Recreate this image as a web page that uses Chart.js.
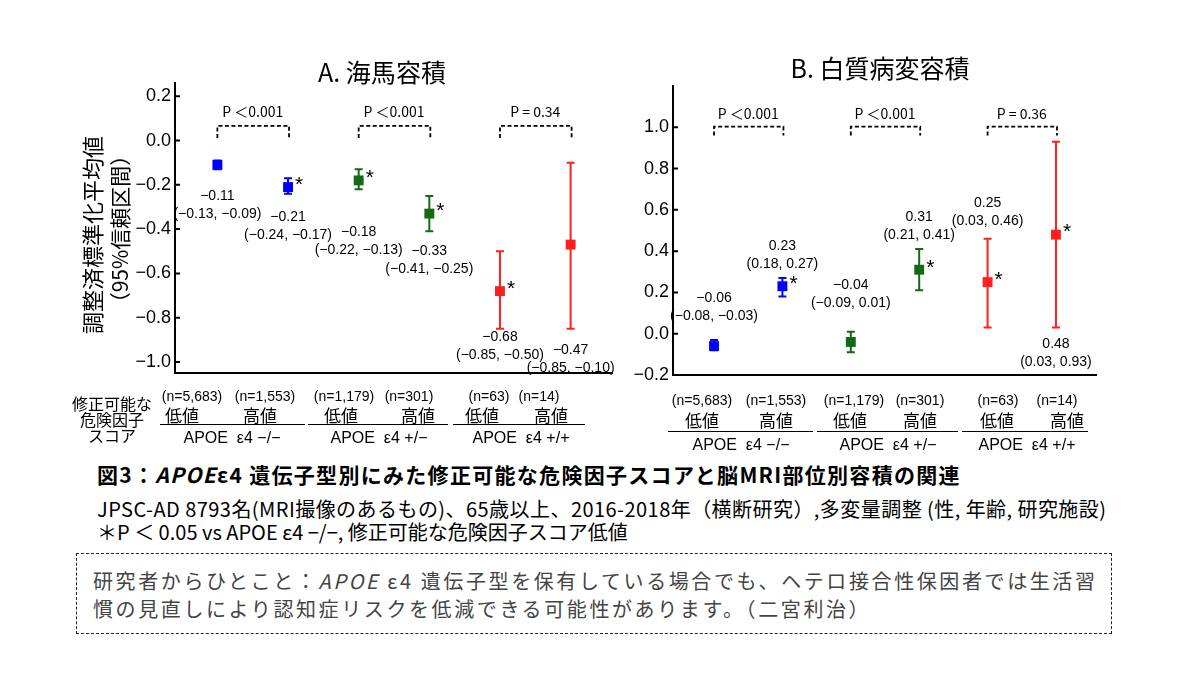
<!DOCTYPE html>
<html>
<head>
<meta charset="utf-8">
<script src="https://cdn.jsdelivr.net/npm/chart.js@4.4.0/dist/chart.umd.min.js"></script>
<style>
  body { margin: 0; background: #fff; width: 1200px; height: 675px; position: relative; overflow: hidden;
         font-family: "Noto Sans CJK JP", "Noto Sans", sans-serif; color: #000; }
  .abs { position: absolute; white-space: pre; line-height: 1; transform: translate(-50%, -50%); }
  .left { transform: translate(0, -50%); }
  #wrapA { position: absolute; left: 0; top: 0; width: 620px; height: 400px; }
  #wrapB { position: absolute; left: 620px; top: 0; width: 560px; height: 400px; }
  .uline { position: absolute; height: 0; border-top: 1.5px solid #000; }
  .num { font-family: "Liberation Sans", Arial, sans-serif; font-size: 14px; }
  .grp { font-size: 17px; }
  .side { font-size: 16px; }
  .apoe { font-family: "Liberation Sans", Arial, sans-serif; font-size: 16px; }
  #box { position: absolute; left: 76px; top: 553px; width: 1034px; height: 79px; border: 1.5px dashed #222; }
  #box div { position: absolute; left: 16px; font-size: 20px; letter-spacing: 2.6px; color: #444; white-space: nowrap; }
</style>
</head>
<body>
<div id="wrapA"><canvas id="chartA"></canvas></div>
<div id="wrapB"><canvas id="chartB"></canvas></div>
<div id="tables"></div>

<div class="abs left" style="left:97px;top:474px;font-size:21px;font-weight:bold;letter-spacing:1.3px;">図3：<i>APOE</i>ε4 遺伝子型別にみた修正可能な危険因子スコアと脳MRI部位別容積の関連</div>
<div class="abs left" style="left:97px;top:509px;font-size:20px;letter-spacing:0.45px;">JPSC-AD 8793名(MRI撮像のあるもの)、65歳以上、2016-2018年（横断研究）,多変量調整 (性, 年齢, 研究施設)</div>
<div class="abs left" style="left:97px;top:532px;font-size:20px;">＊P ＜ 0.05 vs APOE ε4 −/−, 修正可能な危険因子スコア低値</div>

<div id="box">
  <div style="top:12px;">研究者からひとこと：<i>APOE</i> ε4 遺伝子型を保有している場合でも、ヘテロ接合性保因者では生活習</div>
  <div style="top:40px;">慣の見直しにより認知症リスクを低減できる可能性があります。（二宮利治）</div>
</div>

<script>
// categories
const xPos = [1, 2, 3, 4, 5, 6];
const groups = ['低値', '高値', '低値', '高値', '低値', '高値'];
const nLabels = ['(n=5,683)', '(n=1,553)', '(n=1,179)', '(n=301)', '(n=63)', '(n=14)'];
const genotypes = ['APOE  ε4 −/−', 'APOE  ε4 +/−', 'APOE  ε4 +/+'];
const colors = ['#0000ff', '#0000ff', '#126b12', '#126b12', '#ff1f1f', '#ff1f1f'];

// A. hippocampus
const hippoMean = [-0.11, -0.21, -0.18, -0.33, -0.68, -0.47];
const hippoLow  = [-0.13, -0.24, -0.22, -0.41, -0.85, -0.85];
const hippoHigh = [-0.09, -0.17, -0.13, -0.25, -0.50, -0.10];
const hippoStar = [false, true, true, true, true, false];
const hippoP = ['P ＜0.001', 'P ＜0.001', 'P = 0.34'];
const hippoTicks = [0.2, 0.0, -0.2, -0.4, -0.6, -0.8, -1.0];

// B. white matter lesions
const wmlMean = [-0.06, 0.23, -0.04, 0.31, 0.25, 0.48];
const wmlLow  = [-0.08, 0.18, -0.09, 0.21, 0.03, 0.03];
const wmlHigh = [-0.03, 0.27, 0.01, 0.41, 0.46, 0.93];
const wmlStar = [false, true, false, true, true, true];
const wmlP = ['P ＜0.001', 'P ＜0.001', 'P = 0.36'];
const wmlTicks = [-0.2, 0.0, 0.2, 0.4, 0.6, 0.8, 1.0];

function fmt(v, d) {
  return (v < 0 ? '−' : '') + Math.abs(v).toFixed(d);
}

// error bars + annotations drawn through the chart's scales
const extras = {
  id: 'extras',
  beforeDatasetsDraw(chart, args, o) {
    const ctx = chart.ctx, x = chart.scales.x, y = chart.scales.y;
    ctx.save();
    ctx.lineWidth = 2;
    o.low.forEach((lo, i) => {
      const px = x.getPixelForValue(xPos[i]);
      const y1 = y.getPixelForValue(lo), y2 = y.getPixelForValue(o.high[i]);
      ctx.strokeStyle = colors[i];
      ctx.beginPath();
      ctx.moveTo(px, y1); ctx.lineTo(px, y2);
      ctx.moveTo(px - 4, y1); ctx.lineTo(px + 4, y1);
      ctx.moveTo(px - 4, y2); ctx.lineTo(px + 4, y2);
      ctx.stroke();
    });
    ctx.restore();
  },
  afterDraw(chart, args, o) {
    const ctx = chart.ctx, x = chart.scales.x, y = chart.scales.y, area = chart.chartArea;
    ctx.save();
    // bottom axis + inward ticks
    ctx.strokeStyle = '#000';
    ctx.lineWidth = 2;
    ctx.beginPath();
    ctx.moveTo(area.left - 1, area.bottom);
    ctx.lineTo(area.right, area.bottom);
    y.ticks.forEach(t => {
      const py = y.getPixelForValue(t.value);
      ctx.moveTo(area.left, py);
      ctx.lineTo(area.left + 5, py);
    });
    ctx.stroke();

    // value labels
    ctx.fillStyle = '#000';
    ctx.textAlign = 'center';
    ctx.textBaseline = 'middle';
    ctx.font = '14px "Liberation Sans", Arial, sans-serif';
    o.mean.forEach((m, i) => {
      const px = x.getPixelForValue(xPos[i]);
      const py = y.getPixelForValue(o.labelY[i]);
      ctx.fillText(fmt(m, 2), px, py);
      ctx.fillText('(' + fmt(o.low[i], 2) + ', ' + fmt(o.high[i], 2) + ')', px, py + 18);
    });

    // significance stars
    ctx.font = '21px "Liberation Sans", Arial, sans-serif';
    ctx.textAlign = 'left';
    o.star.forEach((s, i) => {
      if (!s) return;
      const px = x.getPixelForValue(xPos[i]);
      const py = y.getPixelForValue(o.mean[i]);
      ctx.fillText('*', px + 7, py - 2);
    });

    // P-value brackets
    ctx.lineWidth = 1.8;
    ctx.setLineDash([4, 2.5]);
    ctx.textAlign = 'center';
    ctx.font = '14px "Noto Sans CJK JP", sans-serif';
    o.pText.forEach((p, k) => {
      const xa = x.getPixelForValue(xPos[2 * k]), xb = x.getPixelForValue(xPos[2 * k + 1]);
      const yt = y.getPixelForValue(o.bracket.top), yf = y.getPixelForValue(o.bracket.foot);
      ctx.beginPath();
      ctx.moveTo(xa, yf); ctx.lineTo(xa, yt); ctx.lineTo(xb + 1, yt); ctx.lineTo(xb + 1, yf);
      ctx.stroke();
      ctx.fillText(p, (xa + xb) / 2, y.getPixelForValue(o.bracket.text));
    });
    ctx.setLineDash([]);

    // panel title
    ctx.font = '25px "Noto Sans CJK JP", sans-serif';
    ctx.fillText(o.title, o.titleX, o.titleY);

    // y axis title
    if (o.yTitle) {
      ctx.translate(93, 235);
      ctx.rotate(-Math.PI / 2);
      ctx.font = '22px "Noto Sans CJK JP", sans-serif';
      ctx.fillText(o.yTitle[0], 0, 0);
      ctx.font = '21px "Noto Sans CJK JP", sans-serif';
      ctx.fillText(o.yTitle[1], 6, 27);
    }
    ctx.restore();
  }
};

function makeChart(id, mean, low, high, star, pText, ticks, cfg) {
  return new Chart(document.getElementById(id), {
    type: 'scatter',
    data: {
      datasets: [{
        data: xPos.map((v, i) => ({ x: v, y: mean[i] })),
        pointStyle: 'rect',
        pointRadius: 7,
        pointHoverRadius: 7,
        backgroundColor: colors,
        borderWidth: 0
      }]
    },
    options: {
      responsive: true,
      maintainAspectRatio: false,
      animation: false,
      events: [],
      layout: { padding: cfg.padding },
      scales: {
        x: { display: false, min: 0.4, max: 6.6 },
        y: {
          min: cfg.yMin,
          max: cfg.yMax,
          afterBuildTicks: s => { s.ticks = ticks.map(v => ({ value: v })); },
          afterFit: s => { s.width = cfg.axisWidth; s.paddingTop = 0; s.paddingBottom = 0; },
          border: { display: true, color: '#000', width: 2 },
          grid: { display: false, drawTicks: false },
          ticks: {
            padding: 4,
            color: '#000',
            font: { family: '"Liberation Sans", Arial, sans-serif', size: 18 },
            callback: v => fmt(v, 1)
          }
        }
      },
      plugins: {
        legend: { display: false },
        tooltip: { enabled: false },
        extras: {
          mean: mean, low: low, high: high, star: star, pText: pText,
          labelY: cfg.labelY, bracket: cfg.bracket,
          title: cfg.title, titleX: cfg.titleX, titleY: cfg.titleY, yTitle: cfg.yTitle
        }
      }
    },
    plugins: [extras]
  });
}

makeChart('chartA', hippoMean, hippoLow, hippoHigh, hippoStar, hippoP, hippoTicks, {
  yMin: -1.05, yMax: 0.26, axisWidth: 175,
  padding: { left: 0, top: 83, right: 5, bottom: 27 },
  labelY: [-0.249, -0.345, -0.413, -0.499, -0.889, -0.947],
  bracket: { top: 0.066, foot: 0.012, text: 0.131 },
  title: 'A. 海馬容積', titleX: 382, titleY: 72,
  yTitle: ['調整済標準化平均値', '（95%信頼区間）']
});

makeChart('chartB', wmlMean, wmlLow, wmlHigh, wmlStar, wmlP, wmlTicks, {
  yMin: -0.2, yMax: 1.2, axisWidth: 53,
  padding: { left: 0, top: 86, right: 83, bottom: 25 },
  labelY: [0.172, 0.424, 0.236, 0.563, 0.633, -0.05],
  bracket: { top: 1.003, foot: 0.96, text: 1.068 },
  title: 'B. 白質病変容積', titleX: 260, titleY: 68
});

// group table under each panel
const tableA = {
  nX: [192, 265, 344, 409, 489, 539], gX: [182, 260, 341, 418, 482, 551],
  lines: [[160, 305], [308, 448], [453, 585]], apoeX: [232, 379, 521],
  rows: [396, 414, 424, 438]
};
const tableB = {
  nX: [702, 776, 854, 920, 998, 1057], gX: [702, 776, 850, 920, 997, 1067],
  lines: [[668, 813], [817, 958], [962, 1088]], apoeX: [741, 888, 1027],
  rows: [400, 419, 431, 445]
};

function addText(cls, text, x, y) {
  const d = document.createElement('div');
  d.className = 'abs ' + cls;
  d.textContent = text;
  d.style.left = x + 'px';
  d.style.top = y + 'px';
  document.getElementById('tables').appendChild(d);
}

[tableA, tableB].forEach(t => {
  nLabels.forEach((s, i) => addText('num', s, t.nX[i], t.rows[0]));
  groups.forEach((s, i) => addText('grp', s, t.gX[i], t.rows[1]));
  t.lines.forEach(([a, b]) => {
    const d = document.createElement('div');
    d.className = 'uline';
    d.style.left = a + 'px';
    d.style.width = (b - a) + 'px';
    d.style.top = t.rows[2] + 'px';
    document.getElementById('tables').appendChild(d);
  });
  genotypes.forEach((s, i) => addText('apoe', s, t.apoeX[i], t.rows[3]));
});

['修正可能な', '危険因子', 'スコア'].forEach((s, i) => addText('side', s, 112, 403 + i * 16));
</script>
</body>
</html>
